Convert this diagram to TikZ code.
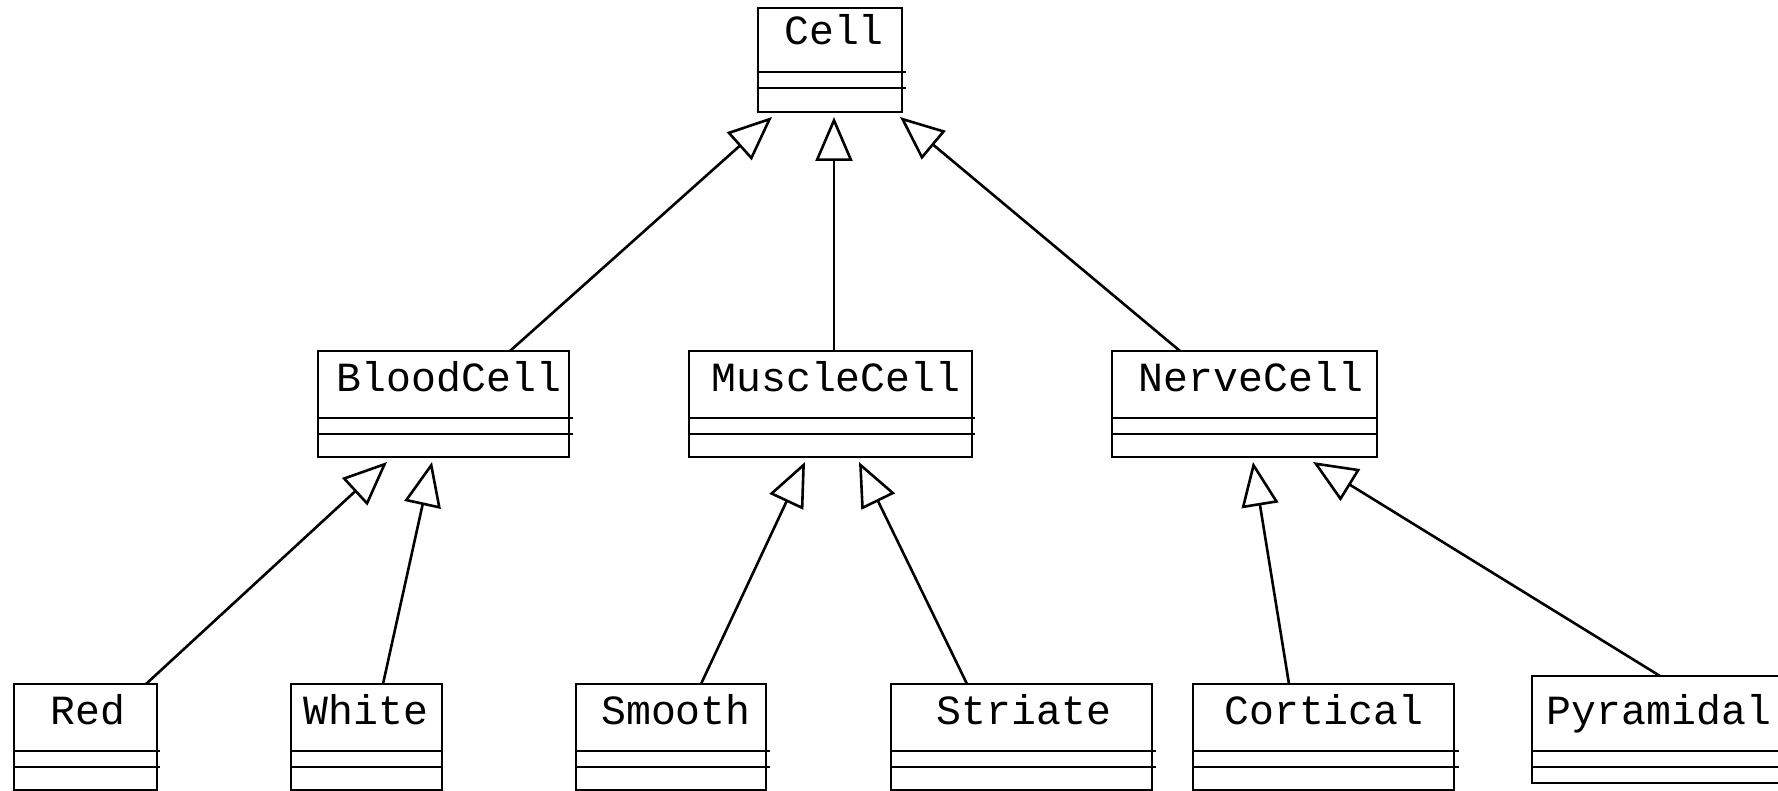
\documentclass[tikz,border=0pt]{standalone}
\usepackage{fontspec}
\newfontfamily\classfont{Liberation Mono}
\usetikzlibrary{arrows.meta,calc}

\tikzset{
  classbox/.style={draw, line width=2.6pt, inner sep=0pt, outer sep=0pt,
                   anchor=north west, fill=none},
  sepline/.style={line width=2.6pt},
  classname/.style={inner sep=0pt, anchor=base,
                    font=\classfont\fontsize{41.5}{48}\selectfont},
  gen/.style={line width=2.6pt,
              -{Triangle[open, length=44pt, width=37pt]}},
}

\begin{document}
\begin{tikzpicture}[x=1pt, y=-1pt]
  \useasboundingbox (0,0) rectangle (1778,791);

  % classes: name / left / top / right / bottom / separator 1 / separator 2 /
  % separator end / label centre x / label baseline / label
  \foreach \nm/\l/\t/\r/\b/\sa/\sb/\e/\cx/\by/\txt in {
    Cell/758/8/902/112/72/88/906/834/45/Cell,
    Blood/318/351/569/457/418/434/573/449/392/BloodCell,
    Muscle/689/351/972/457/418/434/975/836/392/MuscleCell,
    Nerve/1112/351/1377/457/418/434/1377/1251/392/NerveCell,
    Red/14/684/157/790/751/767/160/88/724/Red,
    White/291/684/442/790/751/767/442/366/724/White,
    Smooth/576/684/766/790/751/767/770/676/724/Smooth,
    Striate/891/684/1152/790/751/767/1156/1024/724/Striate,
    Cortical/1193/684/1454/790/751/767/1459/1324/724/Cortical,
    Pyramidal/1532/676/1800/783/751/767/1800/1659/724/Pyramidal%
  }{
    \node[classbox, minimum width={\r-\l}, minimum height={\b-\t}]
      (\nm) at (\l,\t) {};
    \draw[sepline] (\l,\sa) -- (\e,\sa) (\l,\sb) -- (\e,\sb);
    \node[classname] (\nm-name) at (\cx,\by) {\txt};
  }

  % generalisations into Cell
  \draw[gen] ($(Blood.north west)+(192,0)$)  -- ($(Cell.south west)+(14,5)$);
  \draw[gen] ($(Muscle.north west)+(145,0)$) -- ($(Cell.south west)+(76,5)$);
  \draw[gen] ($(Nerve.north west)+(68,0)$)   -- ($(Cell.south west)+(142,5)$);

  % generalisations into BloodCell
  \draw[gen] ($(Red.north west)+(132,0)$)   -- ($(Blood.south west)+(69,5)$);
  \draw[gen] ($(White.north west)+(92,0)$)  -- ($(Blood.south west)+(114,5)$);

  % generalisations into MuscleCell
  \draw[gen] ($(Smooth.north west)+(125,0)$) -- ($(Muscle.south west)+(116,5)$);
  \draw[gen] ($(Striate.north west)+(76,0)$) -- ($(Muscle.south west)+(170,5)$);

  % generalisations into NerveCell
  \draw[gen] ($(Cortical.north west)+(96,0)$)   -- ($(Nerve.south west)+(141,5)$);
  \draw[gen] ($(Pyramidal.north west)+(128,0)$) -- ($(Nerve.south west)+(201,5)$);
\end{tikzpicture}
\end{document}
